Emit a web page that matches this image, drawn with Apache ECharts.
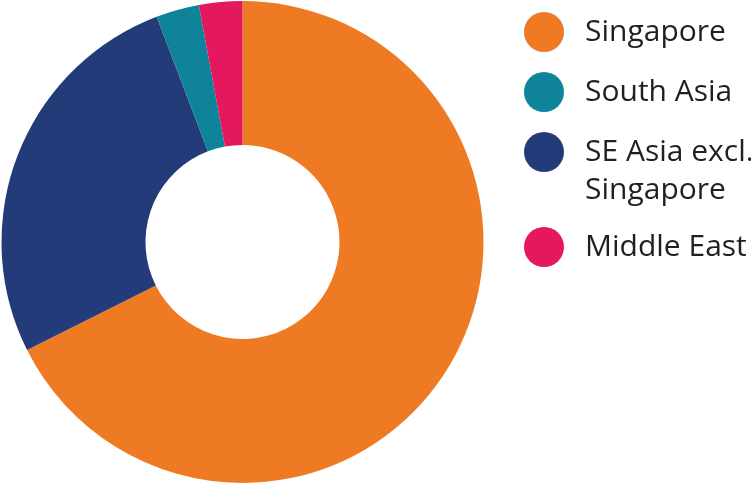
<!DOCTYPE html>
<html>
<head>
<meta charset="utf-8">
<script src="https://cdn.jsdelivr.net/npm/echarts@6/dist/echarts.min.js"></script>
<style>
  html, body { margin: 0; padding: 0; background: #fff; }
  #chart { width: 751px; height: 485px; }
</style>
</head>
<body>
<div id="chart"></div>
<script>
// slices, clockwise from 12 o'clock
const regions = ['Singapore', 'SE Asia excl. Singapore', 'South Asia', 'Middle East']
const shares = [67.6, 26.6, 2.9, 2.9]
const colors = ['#EE7B23', '#233B78', '#0F8399', '#E3185F']

// legend order as shown on the right
const legendOrder = ['Singapore', 'South Asia', 'SE Asia excl. Singapore', 'Middle East']
const legendLabels = ['Singapore', 'South Asia', 'SE Asia excl.\nSingapore', 'Middle East']
const legendIconY = [32, 92, 152, 247]

const chart = echarts.init(document.getElementById('chart'))

const lineH = 38
const legends = legendOrder.map((name, i) => {
  const twoLines = legendLabels[i].indexOf('\n') >= 0
  // blank first line so the first text line sits level with the dot
  const label = twoLines ? ' \n' + legendLabels[i] : legendLabels[i]
  return {
    orient: 'vertical',
    left: 524,
    top: twoLines ? legendIconY[i] - lineH * 1.5 : legendIconY[i] - 20,
    itemWidth: 72,
    itemHeight: 40,
    itemGap: 0,
    padding: 0,
    icon: 'circle',
    selectedMode: false,
    data: [name],
    formatter: () => label,
    textStyle: {
      fontFamily: 'Open Sans',
      fontSize: 30,
      color: '#231F20',
      lineHeight: lineH
    }
  }
})

chart.setOption({
  animation: false,
  legend: legends,
  series: [{
    type: 'pie',
    center: [242.5, 242],
    radius: [97, 241],
    startAngle: 90,
    clockwise: true,
    label: { show: false },
    labelLine: { show: false },
    emphasis: { disabled: true },
    itemStyle: { borderWidth: 0 },
    data: regions.map((r, i) => ({ name: r, value: shares[i], itemStyle: { color: colors[i] } }))
  }]
})
</script>
</body>
</html>
